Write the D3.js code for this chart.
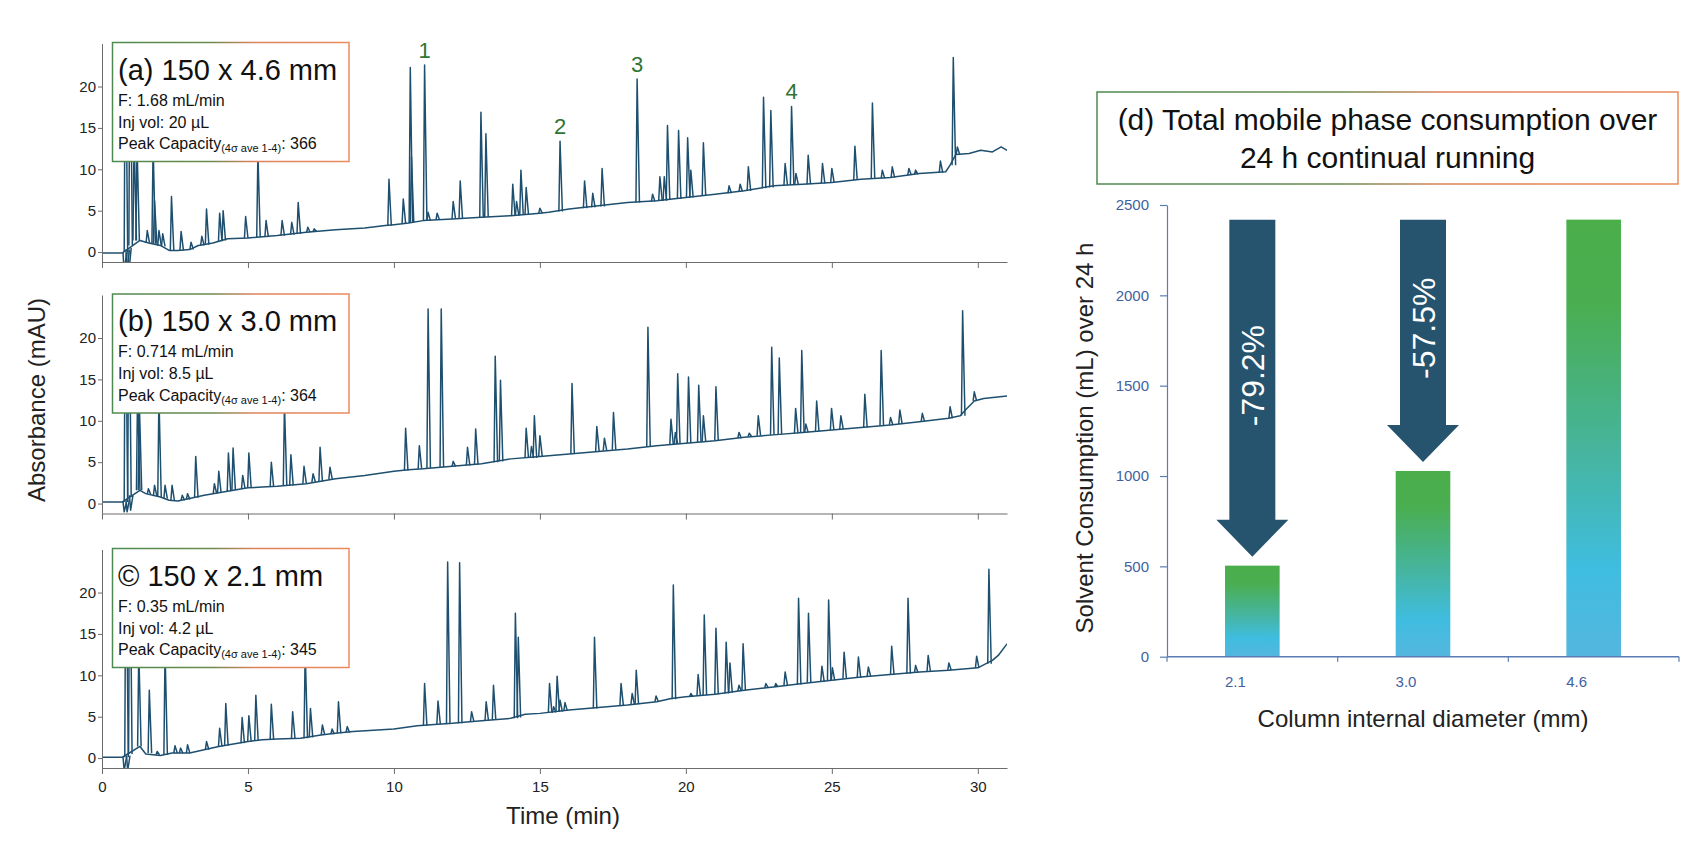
<!DOCTYPE html>
<html>
<head>
<meta charset="utf-8">
<script src="https://cdn.jsdelivr.net/npm/d3@7/dist/d3.min.js"></script>
<style>
  body { margin: 0; background: #fff; }
  svg { display: block; font-family: "Liberation Sans", Arial, sans-serif; }
</style>
</head>
<body>
<script>
// ---- chromatogram data (time in min, absorbance in mAU) ----
// baseline points and peaks [time, apex, local baseline]
var baseA = [[0,-0.1],[0.7,-0.1],[1.3,1.4],[1.6,1.1],[2.0,0.8],[2.3,0.2],[2.6,0.2],[3.0,0.3],[3.3,0.8],[3.8,1.1],[4.3,1.6],[5.0,1.7],[6.0,2.0],[7.0,2.4],[8.0,2.7],[9.0,2.9],[9.7,3.2],[10.0,3.3],[10.5,3.5],[11.0,3.8],[12.0,4.0],[13.0,4.2],[14.0,4.4],[15.0,4.7],[15.3,4.8],[16.0,5.2],[17.0,5.6],[18.0,6.0],[19.0,6.2],[20.0,6.6],[21.0,7.0],[22.0,7.4],[23.0,8.0],[24.0,8.2],[25.0,8.4],[26.0,8.8],[27.0,9.0],[28.0,9.5],[28.9,9.7],[29.05,10.5],[29.25,11.8],[29.7,11.9],[30.1,12.3],[30.5,12.1],[30.8,12.7],[31.0,12.3]];
var peaksA = [[0.76,-2.5,-0.1],[0.8,30,0],[0.86,-2.5,0.3],[0.92,-2.5,0.5],[0.96,30,0.8],[1.1,14,1.4],[1.2,13,1.4],[1.55,2.6,1.1],[1.75,13,1.0],[1.8,6.2,1.0],[1.95,2.6,0.8],[2.08,2.2,0.7],[2.38,6.7,0.2],[2.71,2.5,0.2],[3.05,1.2,0.3],[3.42,1.9,0.8],[3.58,5.2,0.9],[4.03,4.7,1.3],[4.15,5.0,1.4],[4.92,4.3,1.7],[5.34,12,1.8],[5.62,3.8,1.8],[6.17,3.8,2.0],[6.5,3.6,2.1],[6.72,6.0,2.2],[7.05,3.0,2.4],[7.27,2.8,2.5],[9.83,8.8,3.2],[10.32,6.4,3.5],[10.56,22.3,3.5],[10.6,11.5,3.6],[11.05,22.6,3.8],[11.17,4.8,3.8],[11.48,4.7,3.9],[12.03,6.1,4.0],[12.27,8.6,4.0],[12.98,16.9,4.2],[13.15,14.3,4.2],[14.07,8.2,4.4],[14.2,6.1,4.4],[14.35,9.9,4.5],[14.53,7.8,4.5],[15.0,5.3,4.7],[15.69,13.4,4.9],[16.53,8.6,5.3],[16.81,7.1,5.4],[17.13,10.1,5.5],[18.33,20.9,6.0],[18.86,7.0,6.1],[19.11,9.1,6.2],[19.26,9.1,6.2],[19.37,15.3,6.3],[19.75,14.7,6.4],[20.06,13.8,6.6],[20.17,9.9,6.6],[20.6,13.2,6.8],[21.48,8.0,7.1],[21.86,8.2,7.3],[22.14,10.3,7.4],[22.66,18.7,7.7],[22.91,17.1,7.8],[23.4,10.7,8.1],[23.62,17.6,8.1],[23.77,9.5,8.2],[24.19,11.7,8.2],[24.68,10.7,8.3],[25.0,10.1,8.4],[25.79,12.8,8.7],[26.39,18.0,8.9],[26.73,9.9,8.9],[27.07,10.3,9.0],[27.64,10.1,9.3],[27.87,9.9,9.4],[28.72,11.0,9.6],[29.16,23.5,10.5],[29.3,12.7,11.8]];

var baseB = [[0,0.2],[0.7,0.2],[1.3,1.6],[1.5,1.2],[2.0,0.8],[2.3,0.4],[2.6,0.3],[3.0,0.6],[3.5,1.0],[4.0,1.3],[4.5,1.6],[5.0,1.9],[5.5,2.0],[6.0,2.1],[7.0,2.4],[8.0,3.0],[9.0,3.4],[10.0,3.9],[10.5,4.1],[11.0,4.2],[12.0,4.5],[13.0,4.8],[14.0,5.4],[15.0,5.7],[16.0,6.0],[17.0,6.3],[18.0,6.6],[19.0,7.0],[20.0,7.3],[21.0,7.6],[22.0,8.0],[23.0,8.3],[24.0,8.6],[25.0,8.9],[26.0,9.2],[27.0,9.5],[28.0,9.9],[29.0,10.3],[29.4,10.6],[29.6,11.4],[29.88,12.4],[30.2,12.7],[31.0,13.0]];
var peaksB = [[0.76,-1.0,0.2],[0.8,30,0.2],[0.86,-1.0,0.5],[0.92,30,0.8],[0.98,-0.8,1.0],[1.22,14,1.6],[1.28,12,1.6],[1.59,1.8,1.1],[1.8,2.2,0.9],[1.95,13,0.8],[2.16,2.2,0.6],[2.4,2.2,0.4],[2.75,1.0,0.4],[2.93,1.2,0.5],[3.21,5.7,0.7],[3.85,2.4,1.2],[4.0,3.9,1.3],[4.33,6.1,1.5],[4.49,6.7,1.6],[4.82,3.4,1.8],[5.03,6.1,1.9],[5.8,5.0,2.0],[6.25,12,2.2],[6.47,5.9,2.2],[6.92,4.5,2.4],[7.23,3.6,2.6],[7.47,6.8,2.7],[7.81,4.4,2.9],[10.4,9.1,4.0],[10.87,7.0,4.2],[11.17,23.5,4.3],[11.62,23.5,4.4],[12.03,5.1,4.5],[12.52,6.8,4.6],[12.8,9.0,4.7],[13.47,17.8,5.0],[13.65,14.9,5.1],[14.53,9.1,5.5],[14.71,6.9,5.5],[14.81,10.6,5.5],[15.0,8.2,5.7],[16.1,14.5,6.0],[16.95,9.3,6.3],[17.21,7.9,6.4],[17.52,11.0,6.5],[18.7,21.3,6.9],[19.49,10.2,7.1],[19.64,8.6,7.2],[19.72,15.7,7.2],[20.09,15.3,7.3],[20.44,14.3,7.4],[20.6,10.6,7.5],[21.03,14.1,7.6],[21.82,8.6,7.9],[22.17,8.5,8.1],[22.48,10.6,8.2],[22.94,18.9,8.3],[23.2,17.6,8.4],[23.76,11.5,8.5],[23.97,18.5,8.6],[24.11,9.6,8.6],[24.48,12.4,8.7],[24.99,11.5,8.9],[25.31,10.6,9.0],[26.13,13.2,9.2],[26.69,18.5,9.4],[27.01,10.4,9.5],[27.33,11.3,9.6],[28.1,10.9,9.9],[29.05,11.7,10.3],[29.48,23.3,10.6],[29.88,13.5,12.4]];

var baseC = [[0,0.1],[0.7,0.1],[1.3,1.4],[1.5,0.5],[2.0,0.3],[2.4,0.6],[3.0,0.6],[3.5,1.0],[4.0,1.4],[4.5,1.7],[5.0,2.0],[5.5,2.2],[6.0,2.3],[6.8,2.4],[7.5,2.8],[8.0,3.0],[8.6,3.2],[10.0,3.5],[10.8,3.9],[11.5,4.1],[12.0,4.2],[13.0,4.5],[14.0,4.8],[14.5,5.3],[15.0,5.4],[16.0,5.8],[17.0,6.1],[18.0,6.4],[19.0,6.8],[19.5,7.2],[20.0,7.4],[21.0,7.7],[22.0,8.2],[23.0,8.6],[24.0,9.0],[25.0,9.4],[26.0,9.8],[27.0,10.1],[28.0,10.4],[29.0,10.6],[30.0,10.9],[30.5,11.8],[30.7,12.4],[31.0,13.8]];
var peaksC = [[0.76,-1.5,0.1],[0.82,30,0.1],[0.88,-1.5,0.3],[0.95,30,0.5],[1.26,13,1.4],[1.62,8.2,0.6],[1.89,0.8,0.4],[2.16,13,0.4],[2.5,1.5,0.6],[2.69,1.2,0.6],[2.93,1.6,0.6],[3.58,2.0,1.0],[4.03,3.6,1.4],[4.24,6.6,1.5],[4.8,4.9,1.8],[5.03,5.1,2.0],[5.27,7.6,2.1],[5.8,6.5,2.2],[6.53,5.6,2.4],[6.96,13,2.4],[7.14,6.0,2.5],[7.55,4.0,2.8],[7.88,3.5,2.9],[8.1,6.8,3.0],[8.4,3.8,3.1],[11.05,9.0,3.9],[11.51,6.9,4.1],[11.84,23.7,4.1],[12.25,23.6,4.2],[12.66,5.6,4.4],[13.16,6.8,4.5],[13.41,8.8,4.6],[14.16,17.5,4.8],[14.26,14.6,4.9],[15.33,9.0,5.5],[15.47,6.2,5.5],[15.59,9.9,5.6],[15.69,7.0,5.6],[15.86,6.7,5.7],[16.87,14.6,6.0],[17.78,9.0,6.3],[18.16,7.8,6.5],[18.3,10.6,6.5],[18.98,7.5,6.8],[19.57,20.9,7.1],[20.17,7.8,7.4],[20.42,10.1,7.5],[20.63,17.3,7.6],[21.03,15.7,7.7],[21.38,14.0,7.8],[21.51,11.5,7.9],[21.82,8.8,8.1],[21.96,13.8,8.2],[22.74,9.0,8.5],[23.08,9.0,8.6],[23.4,10.4,8.8],[23.86,19.3,8.9],[24.2,17.5,9.1],[24.66,11.1,9.2],[24.89,19.1,9.3],[25.02,10.9,9.4],[25.42,12.8,9.6],[25.91,12.2,9.7],[26.25,11.0,9.9],[27.05,13.5,10.1],[27.61,19.3,10.2],[27.87,11.2,10.3],[28.3,12.4,10.4],[29.01,11.5,10.6],[29.96,12.3,10.9],[30.38,22.8,11.4]];

var timeTicks = [0, 5, 10, 15, 20, 25, 30];
var absTicks = [0, 5, 10, 15, 20];
var panelTitles = ["(a) 150 x 4.6 mm", "(b) 150 x 3.0 mm", "\u00A9 150 x 2.1 mm"];
var flowRates = ["F: 1.68 mL/min", "F: 0.714 mL/min", "F: 0.35 mL/min"];
var injVols = ["Inj vol: 20 \u00B5L", "Inj vol: 8.5 \u00B5L", "Inj vol: 4.2 \u00B5L"];
var peakCaps = [366, 364, 345];
// numbered peaks in panel (a): [label, time, apex]
var peakMarks = [["1", 11.05, 22.6], ["2", 15.69, 13.4], ["3", 18.33, 20.9], ["4", 23.62, 17.6]];

// ---- solvent consumption data ----
var diameters = ["2.1", "3.0", "4.6"];
var consumption = [504, 1028, 2419];
var consumptionTicks = [0, 500, 1000, 1500, 2000, 2500];

var W = 1700, H = 851;
var traceColor = "#1e4f6f";

var svg = d3.select("body").append("svg")
  .attr("width", W)
  .attr("height", H);

var defs = svg.append("defs");

// green -> orange border used on the text boxes
var edge = defs.append("linearGradient").attr("id", "boxEdge");
edge.selectAll("stop")
  .data([[0, "#4d8a50"], [0.42, "#6b8a4f"], [0.6, "#df825a"], [1, "#ea8a5d"]])
  .enter().append("stop")
  .attr("offset", function (d) { return d[0]; })
  .attr("stop-color", function (d) { return d[1]; });

// bar fill, green at the top to sky blue at the bottom
var barGrad = defs.append("linearGradient").attr("id", "barGrad")
  .attr("x1", 0).attr("y1", 0).attr("x2", 0).attr("y2", 1);
barGrad.selectAll("stop")
  .data([[0, "#4bae4a"], [0.2, "#4aae52"], [0.55, "#46b5a2"], [0.8, "#3fbde0"], [1, "#55b6de"]])
  .enter().append("stop")
  .attr("offset", function (d) { return d[0]; })
  .attr("stop-color", function (d) { return d[1]; });

// ================= left: three chromatograms =================
var x = d3.scaleLinear().domain([0, 31]).range([102, 1007]);
var panelTop = [43.5, 295, 549.5];
var panelH = 218.5;
var panels = [
  { base: baseA, peaks: peaksA },
  { base: baseB, peaks: peaksB },
  { base: baseC, peaks: peaksC }
];

panels.forEach(function (p, i) {
  var y = d3.scaleLinear().domain([-1.2, 25.2]).range([panelTop[i] + panelH, panelTop[i]]);
  var line = d3.line()
    .x(function (d) { return x(d[0]); })
    .y(function (d) { return y(d[1]); });

  defs.append("clipPath").attr("id", "clip" + i)
    .append("rect")
    .attr("x", x(0)).attr("y", y(25.2))
    .attr("width", x(31) - x(0)).attr("height", y(-1.2) - y(25.2));

  var g = svg.append("g").attr("clip-path", "url(#clip" + i + ")");

  g.append("path")
    .datum(p.base)
    .attr("d", line)
    .attr("fill", "none")
    .attr("stroke", traceColor)
    .attr("stroke-width", 1.5)
    .attr("stroke-linejoin", "round");

  // each peak: a narrow spike with a little tailing
  g.selectAll(".peak")
    .data(p.peaks)
    .enter().append("path")
    .attr("class", "peak")
    .attr("d", function (d) {
      return line([[d[0] - 0.04, d[2]], [d[0], d[1]], [d[0] + 0.08, d[2]]]);
    })
    .attr("fill", "none")
    .attr("stroke", traceColor)
    .attr("stroke-width", 1.5)
    .attr("stroke-linejoin", "round");

  // x axis: minor ticks every minute, major every 5
  var xg = svg.append("g").attr("transform", "translate(0," + y(-1.2) + ")");
  xg.call(d3.axisBottom(x).tickValues(d3.range(0, 32)).tickSize(5).tickSizeOuter(0).tickFormat(""));
  xg.call(d3.axisBottom(x).tickValues(timeTicks).tickSize(6).tickSizeOuter(0).tickPadding(7)
    .tickFormat(i === 2 ? d3.format("d") : ""));

  // y axis
  var yg = svg.append("g").attr("transform", "translate(" + x(0) + ",0)");
  yg.call(d3.axisLeft(y).tickValues(d3.range(0, 26)).tickSize(2).tickSizeOuter(0).tickFormat(""));
  yg.call(d3.axisLeft(y).tickValues(absTicks).tickSize(4).tickSizeOuter(0).tickPadding(2));

  [xg, yg].forEach(function (a) {
    a.selectAll("path, line").attr("stroke", "#6d6d6d");
    a.selectAll("text").attr("font-size", 15).attr("fill", "#222")
      .attr("font-family", "'Liberation Sans', Arial, sans-serif");
  });

  // info box
  var bx = svg.append("g").attr("transform", "translate(112.5," + (panelTop[i] - 1) + ")");
  bx.append("rect")
    .attr("width", 236.5).attr("height", 119)
    .attr("fill", "#fff")
    .attr("stroke", "url(#boxEdge)")
    .attr("stroke-width", 1.5);
  bx.append("text").attr("x", 5.5).attr("y", 37).attr("font-size", 29).attr("fill", "#111").text(panelTitles[i]);
  bx.append("text").attr("x", 5.5).attr("y", 63).attr("font-size", 16).attr("fill", "#111").text(flowRates[i]);
  bx.append("text").attr("x", 5.5).attr("y", 85).attr("font-size", 16).attr("fill", "#111").text(injVols[i]);
  var pc = bx.append("text").attr("x", 5.5).attr("y", 106.5).attr("font-size", 16).attr("fill", "#111");
  pc.append("tspan").text("Peak Capacity");
  pc.append("tspan").attr("font-size", 11).attr("dy", 3).text("(4\u03C3 ave 1-4)");
  pc.append("tspan").attr("dy", -3).text(": " + peakCaps[i]);

  if (i === 0) {
    svg.selectAll(".pkno")
      .data(peakMarks)
      .enter().append("text")
      .attr("class", "pkno")
      .attr("x", function (d) { return x(d[1]); })
      .attr("y", function (d) { return y(d[2]) - 7; })
      .attr("text-anchor", "middle")
      .attr("font-size", 22)
      .attr("fill", "#2f7433")
      .text(function (d) { return d[0]; });
  }
});

svg.append("text")
  .attr("transform", "translate(45,400) rotate(-90)")
  .attr("text-anchor", "middle")
  .attr("font-size", 24)
  .attr("fill", "#222")
  .text("Absorbance (mAU)");

svg.append("text")
  .attr("x", 563).attr("y", 824)
  .attr("text-anchor", "middle")
  .attr("font-size", 24)
  .attr("fill", "#222")
  .text("Time (min)");

// ================= right: solvent consumption bars =================
var xb = d3.scaleBand().domain(diameters).range([1167, 1679]).paddingInner(0.68).paddingOuter(0.34);
var yb = d3.scaleLinear().domain([0, 2500]).range([656.7, 205]);
var axisBlue = "#5a7cb4";
var labelBlue = "#3f62a0";

// title box
var tb = svg.append("g").attr("transform", "translate(1097,92)");
tb.append("rect")
  .attr("width", 581).attr("height", 92)
  .attr("fill", "#fff")
  .attr("stroke", "url(#boxEdge)")
  .attr("stroke-width", 1.5);
tb.append("text").attr("x", 290.5).attr("y", 38).attr("text-anchor", "middle")
  .attr("font-size", 30).attr("fill", "#111").text("(d) Total mobile phase consumption over");
tb.append("text").attr("x", 290.5).attr("y", 76).attr("text-anchor", "middle")
  .attr("font-size", 30).attr("fill", "#111").text("24 h continual running");

svg.selectAll(".bar")
  .data(consumption)
  .enter().append("rect")
  .attr("class", "bar")
  .attr("x", function (d, i) { return xb(diameters[i]); })
  .attr("width", xb.bandwidth())
  .attr("y", function (d) { return yb(d); })
  .attr("height", function (d) { return yb(0) - yb(d); })
  .attr("fill", "url(#barGrad)");

// y axis
var ybg = svg.append("g").attr("transform", "translate(" + xb.range()[0] + ",0)")
  .call(d3.axisLeft(yb).tickValues(consumptionTicks).tickSize(7).tickSizeOuter(0).tickPadding(11)
    .tickFormat(d3.format("d")));
ybg.selectAll("path, line").attr("stroke", axisBlue).attr("stroke-width", 1.2);
ybg.selectAll("text").attr("font-size", 15).attr("fill", labelBlue)
  .attr("font-family", "'Liberation Sans', Arial, sans-serif");

// x axis with ticks on band edges
var xbg = svg.append("g").attr("transform", "translate(0," + yb(0) + ")");
xbg.append("line")
  .attr("x1", xb.range()[0]).attr("x2", xb.range()[1])
  .attr("stroke", axisBlue).attr("stroke-width", 1.5);
xbg.selectAll(".edge")
  .data(d3.range(diameters.length + 1))
  .enter().append("line")
  .attr("x1", function (k) { return xb.range()[0] + k * xb.step(); })
  .attr("x2", function (k) { return xb.range()[0] + k * xb.step(); })
  .attr("y1", 0).attr("y2", 5)
  .attr("stroke", axisBlue).attr("stroke-width", 1.2);
xbg.selectAll(".lab")
  .data(diameters)
  .enter().append("text")
  .attr("x", function (d) { return xb(d) + xb.bandwidth() / 2 - 17; })
  .attr("y", 30)
  .attr("text-anchor", "middle")
  .attr("font-size", 15)
  .attr("fill", labelBlue)
  .text(function (d) { return d; });

// reduction arrows from the 4.6 mm level down to each smaller column
var arrowColor = "#26546f";
var ref = consumption[consumption.length - 1];
[0, 1].forEach(function (i) {
  var cx = xb(diameters[i]) + xb.bandwidth() / 2;
  var top = yb(ref);
  var tip = yb(consumption[i]) - 9;
  var hb = tip - 37;
  var path = d3.path();
  path.moveTo(cx - 23, top);
  path.lineTo(cx + 23, top);
  path.lineTo(cx + 23, hb);
  path.lineTo(cx + 36, hb);
  path.lineTo(cx, tip);
  path.lineTo(cx - 36, hb);
  path.lineTo(cx - 23, hb);
  path.closePath();
  svg.append("path").attr("d", path.toString()).attr("fill", arrowColor);

  var pct = ((consumption[i] / ref - 1) * 100).toFixed(1) + "%";
  svg.append("text")
    .attr("transform", "translate(" + cx + "," + ((top + hb) / 2 + 6) + ") rotate(-90)")
    .attr("text-anchor", "middle")
    .attr("dy", "0.36em")
    .attr("font-size", 32)
    .attr("fill", "#fff")
    .text(pct);
});

svg.append("text")
  .attr("transform", "translate(1093,438) rotate(-90)")
  .attr("text-anchor", "middle")
  .attr("font-size", 24)
  .attr("fill", "#222")
  .text("Solvent Consumption (mL) over 24 h");

svg.append("text")
  .attr("x", 1423).attr("y", 727)
  .attr("text-anchor", "middle")
  .attr("font-size", 24)
  .attr("fill", "#222")
  .text("Column internal diameter (mm)");
</script>
</body>
</html>
